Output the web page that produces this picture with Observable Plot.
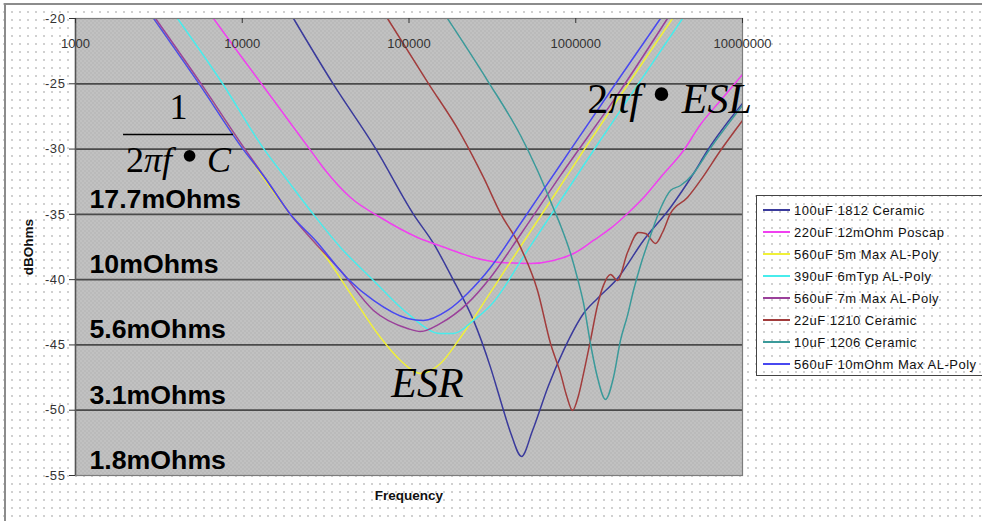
<!DOCTYPE html>
<html><head><meta charset="utf-8">
<script src="https://cdn.jsdelivr.net/npm/d3@7"></script>
<script src="https://cdn.jsdelivr.net/npm/@observablehq/plot@0.6"></script>
<style>
html,body{margin:0;padding:0;background:#fff;}
#wrap{position:relative;width:982px;height:521px;overflow:hidden;
  background-image:radial-gradient(circle,#cfcfcf 0.7px,transparent 1px);background-size:8px 8px;}
#border{position:absolute;left:4px;top:3px;width:1000px;height:540px;border-left:2px solid #8c8c8c;border-top:2px solid #8c8c8c;pointer-events:none;}
#chart{position:absolute;left:0;top:0;}
#legend{position:absolute;left:756px;top:195px;width:240px;height:179px;border:1px solid #444;
  font:13px "Liberation Sans",Arial,sans-serif;letter-spacing:0.5px;color:#111;}
.item{position:absolute;left:0;height:22px;display:flex;align-items:center;white-space:nowrap;}
.sw{width:27px;height:0;border-top:2px solid;margin-left:6px;margin-right:4px;}
[aria-label="y-axis tick label"] text{letter-spacing:0.6px;}
</style></head>
<body>
<div id="wrap"><div id="chart"></div><div id="border"></div><div id="legend"></div></div>
<script>
// ---- axis ticks / labels ----
const xTicks = [1000, 10000, 100000, 1000000, 10000000];
const yTicks = [-20, -25, -30, -35, -40, -45, -50, -55];
const gridDb = [-25, -30, -35, -40, -45, -50];
const ohmLabels = ["17.7mOhms", "10mOhms", "5.6mOhms", "3.1mOhms", "1.8mOhms"];
const ohmDb = [-35, -40, -45, -50, -55];

// ---- series ----
const seriesNames = [
  "100uF 1812 Ceramic", "220uF 12mOhm Poscap", "560uF 5m Max AL-Poly", "390uF 6mTyp AL-Poly",
  "560uF 7m Max AL-Poly", "22uF 1210 Ceramic", "10uF 1206 Ceramic", "560uF 10mOhm Max AL-Poly"
];
const seriesColors = ["#3a3a9c", "#f040f0", "#f0f038", "#48ecec", "#9a409a", "#a23c3c", "#3a9a9a", "#4848f0"];

const f_100uF_1812 = [20290, 35250, 62950, 106400, 140300, 184900, 243800, 308200, 353900, 406300, 473000, 550700, 686900, 845200, 1114000, 1350000, 1779000, 2548000, 3700000, 5084000, 6166000, 10000000];
const db_100uF_1812 = [-20, -25.05, -29.95, -35.0, -37.23, -40.06, -43.12, -46.72, -49.25, -51.70, -53.54, -51.55, -48.10, -45.42, -42.59, -41.44, -39.91, -37.0, -34.47, -31.87, -30.11, -26.51];

const f_220uF_poscap = [6724, 9366, 12870, 18940, 26750, 31570, 44590, 67480, 112500, 170200, 243800, 353900, 535500, 735900, 997000, 1277000, 1616000, 2044000, 2620000, 3223000, 4428000, 5598000, 7383000, 10000000];
const db_220uF_poscap = [-20, -22.53, -24.90, -27.81, -30.41, -31.64, -33.71, -35.24, -36.77, -37.61, -38.30, -38.68, -38.76, -38.53, -37.92, -37.0, -36.08, -34.93, -33.55, -32.17, -30.11, -28.12, -26.28, -24.29];

const f_560uF_5m = [2937, 5621, 10170, 12870, 19470, 30710, 44590, 67480, 88940, 117200, 154500, 203600, 308200, 466600, 735900, 1114000, 1854000, 3803000];
const db_560uF_5m = [-20, -25.05, -29.95, -31.87, -35.01, -38.0, -41.06, -44.43, -46.19, -47.18, -46.42, -44.43, -40.98, -37.46, -33.63, -30.11, -25.90, -20];

const f_390uF_6m = [4090, 7614, 13410, 18680, 26750, 38840, 61270, 97950, 154500, 184900, 243800, 308200, 513800, 810600, 1277000, 1854000, 4368000];
const db_390uF_6m = [-20, -24.98, -29.95, -32.40, -35.01, -37.53, -40.06, -42.59, -44.12, -44.12, -43.12, -41.98, -37.76, -33.94, -30.11, -27.04, -20];

const f_560uF_7m = [3019, 5697, 10310, 13790, 19470, 27500, 38840, 61270, 97950, 117200, 154500, 224300, 308200, 466600, 810600, 1854000, 3549000];
const db_560uF_7m = [-20, -25.05, -29.95, -32.25, -35.01, -37.23, -39.30, -42.36, -43.74, -43.97, -43.35, -41.82, -39.83, -36.54, -32.02, -25.51, -20];

const f_22uF_1210 = [74320, 130900, 203600, 279800, 353900, 466600, 589800, 705800, 810600, 880400, 956600, 1039000, 1114000, 1225000, 1350000, 1466000, 1616000, 1779000, 2044000, 2379000, 2620000, 3008000, 3312000, 3700000, 4677000, 5598000, 7383000, 10000000];
const db_22uF_1210 = [-20, -24.98, -28.81, -32.17, -34.93, -37.53, -40.83, -44.89, -47.18, -48.87, -50.02, -48.87, -47.18, -44.66, -41.98, -40.44, -39.60, -40.06, -37.92, -36.39, -36.46, -37.23, -36.39, -34.93, -33.71, -32.40, -30.11, -27.81];

const f_10uF_1206 = [170200, 295700, 466600, 589800, 735900, 810600, 930400, 1025000, 1114000, 1225000, 1350000, 1508000, 1684000, 1854000, 2044000, 2219000, 2445000, 2807000, 3223000, 3700000, 4249000, 5084000, 6166000, 10000000];
const db_10uF_1206 = [-20, -24.75, -28.96, -31.64, -34.55, -35.85, -37.99, -39.91, -41.82, -44.89, -47.49, -49.17, -47.49, -44.66, -42.74, -40.83, -38.91, -36.62, -34.55, -33.17, -32.79, -31.87, -30.26, -26.66];

const f_560uF_10m = [2937, 5541, 10030, 13790, 19470, 27500, 42780, 61270, 97950, 122200, 170200, 224300, 308200, 466600, 810600, 1854000, 3223000];
const db_560uF_10m = [-20, -25.05, -29.95, -32.25, -35.01, -37.0, -39.91, -41.59, -42.97, -43.12, -42.36, -41.06, -39.07, -35.70, -31.18, -24.44, -20];

const seriesF = [f_100uF_1812, f_220uF_poscap, f_560uF_5m, f_390uF_6m, f_560uF_7m, f_22uF_1210, f_10uF_1206, f_560uF_10m];
const seriesDb = [db_100uF_1812, db_220uF_poscap, db_560uF_5m, db_390uF_6m, db_560uF_7m, db_22uF_1210, db_10uF_1206, db_560uF_10m];

// ---- annotations (data space) ----
const formulaTexts = ["1", "2\u03c0f \u2022 C", "2\u03c0f \u2022 ESL", "ESR"];
const formulaF = [4147, 4147, 3650000, 129100];
const formulaDb = [-26.8, -30.9, -26.2, -47.95];
const formulaSize = [36, 36, 42, 42];
const fracBar = [{f1: 1941, f2: 8860, db: -28.88}];

const rows = [];
seriesNames.forEach((name, i) => {
  seriesF[i].forEach((f, j) => rows.push({name, f, db: seriesDb[i][j]}));
});
const formulas = formulaTexts.map((t, i) => ({t, f: formulaF[i], db: formulaDb[i], s: formulaSize[i]}));

const sans = '"Liberation Sans", Arial, sans-serif';
const serif = '"Liberation Serif", "Times New Roman", serif';

const chart = Plot.plot({
  width: 982, height: 521,
  marginLeft: 75, marginTop: 18, marginRight: 240, marginBottom: 46,
  style: {background: "transparent", overflow: "visible", fontFamily: sans},
  x: {type: "log", domain: [1000, 10000000], axis: null},
  y: {domain: [-55, -20], axis: null},
  color: {domain: seriesNames, range: seriesColors},
  marks: [
    Plot.frame({fill: "#bfbfbf"}),
    Plot.ruleY(gridDb, {stroke: "#4a4a4a", strokeWidth: 1.7}),
    Plot.line(rows, {x: "f", y: "db", z: "name", stroke: "name", strokeWidth: 1.5, curve: "monotone-x", clip: true}),
    Plot.frame({stroke: "#7c7c7c", strokeWidth: 1.2}),
    Plot.ruleX([1000], {stroke: "#555", strokeWidth: 1.5}),
    Plot.axisY({ticks: yTicks, tickFormat: d => String(d), tickSize: 6, tickPadding: 4, fontSize: 13, color: "#333", label: null}),
    Plot.tickX(xTicks, {x: d => d, stroke: "#333", insetBottom: 452}),
    Plot.text(xTicks, {x: d => d, frameAnchor: "top", dy: 20, text: d => String(d), fontSize: 13, fill: "#333"}),
    Plot.text(["dBOhms"], {frameAnchor: "left", textAnchor: "middle", dx: -47, rotate: -90, fontSize: 13.5, fontWeight: "bold", fill: "#111"}),
    Plot.text(["Frequency"], {frameAnchor: "bottom", dy: 24, fontSize: 13.5, fontWeight: "bold", fill: "#111"}),
    Plot.text(ohmLabels, {y: (d, i) => ohmDb[i], text: d => d, frameAnchor: "left", dx: 14, dy: -15, textAnchor: "start", fontSize: 26.7, fontWeight: "bold", fill: "#000"}),
    Plot.ruleY(fracBar, {x1: "f1", x2: "f2", y: "db", stroke: "#000", strokeWidth: 1.6}),
    Plot.text(formulas, {x: "f", y: "db", text: "t", fontFamily: serif, fontStyle: "italic", fill: "#000"})
  ]
});
document.getElementById("chart").appendChild(chart);

// textured plot background
const ns = "http://www.w3.org/2000/svg";
const defs = document.createElementNS(ns, "defs");
defs.innerHTML = '<pattern id="bgpat" width="4" height="4" patternUnits="userSpaceOnUse"><rect width="4" height="4" fill="#bababa"/><rect width="1" height="1" fill="#d4d4d4"/><rect x="2" y="2" width="1" height="1" fill="#d4d4d4"/></pattern>';
chart.insertBefore(defs, chart.firstChild);
const fr = chart.querySelector('[aria-label="frame"]');
if (fr) { const r = fr.tagName.toLowerCase() === "rect" ? fr : fr.querySelector("rect"); if (r) r.setAttribute("fill", "url(#bgpat)"); }

// formula typography: upright digits, large bullet, per-item size
chart.querySelectorAll('[aria-label="text"]').forEach(g => {
  const ts = g.querySelectorAll("text");
  if (ts.length === formulas.length && ts[0].textContent === "1") {
    ts.forEach((t, i) => {
      const s = formulas[i].s;
      t.setAttribute("font-size", s);
      const txt = formulas[i].t;
      if (txt === "1") { t.setAttribute("font-style", "normal"); return; }
      if (txt.startsWith("2")) {
        const rest = txt.slice(1).split("\u2022");
        t.innerHTML = `<tspan font-style="normal">2</tspan>${rest[0]}<tspan font-size="${Math.round(s * 1.35)}" font-style="normal">\u2022</tspan>${rest[1]}`;
      }
    });
  }
});

// legend
const lg = document.getElementById("legend");
seriesNames.forEach((n, i) => {
  const it = document.createElement("div");
  it.className = "item";
  it.style.top = (3 + 22 * i) + "px";
  it.innerHTML = `<span class="sw" style="border-color:${seriesColors[i]}"></span><span>${n}</span>`;
  lg.appendChild(it);
});
</script>
</body></html>
